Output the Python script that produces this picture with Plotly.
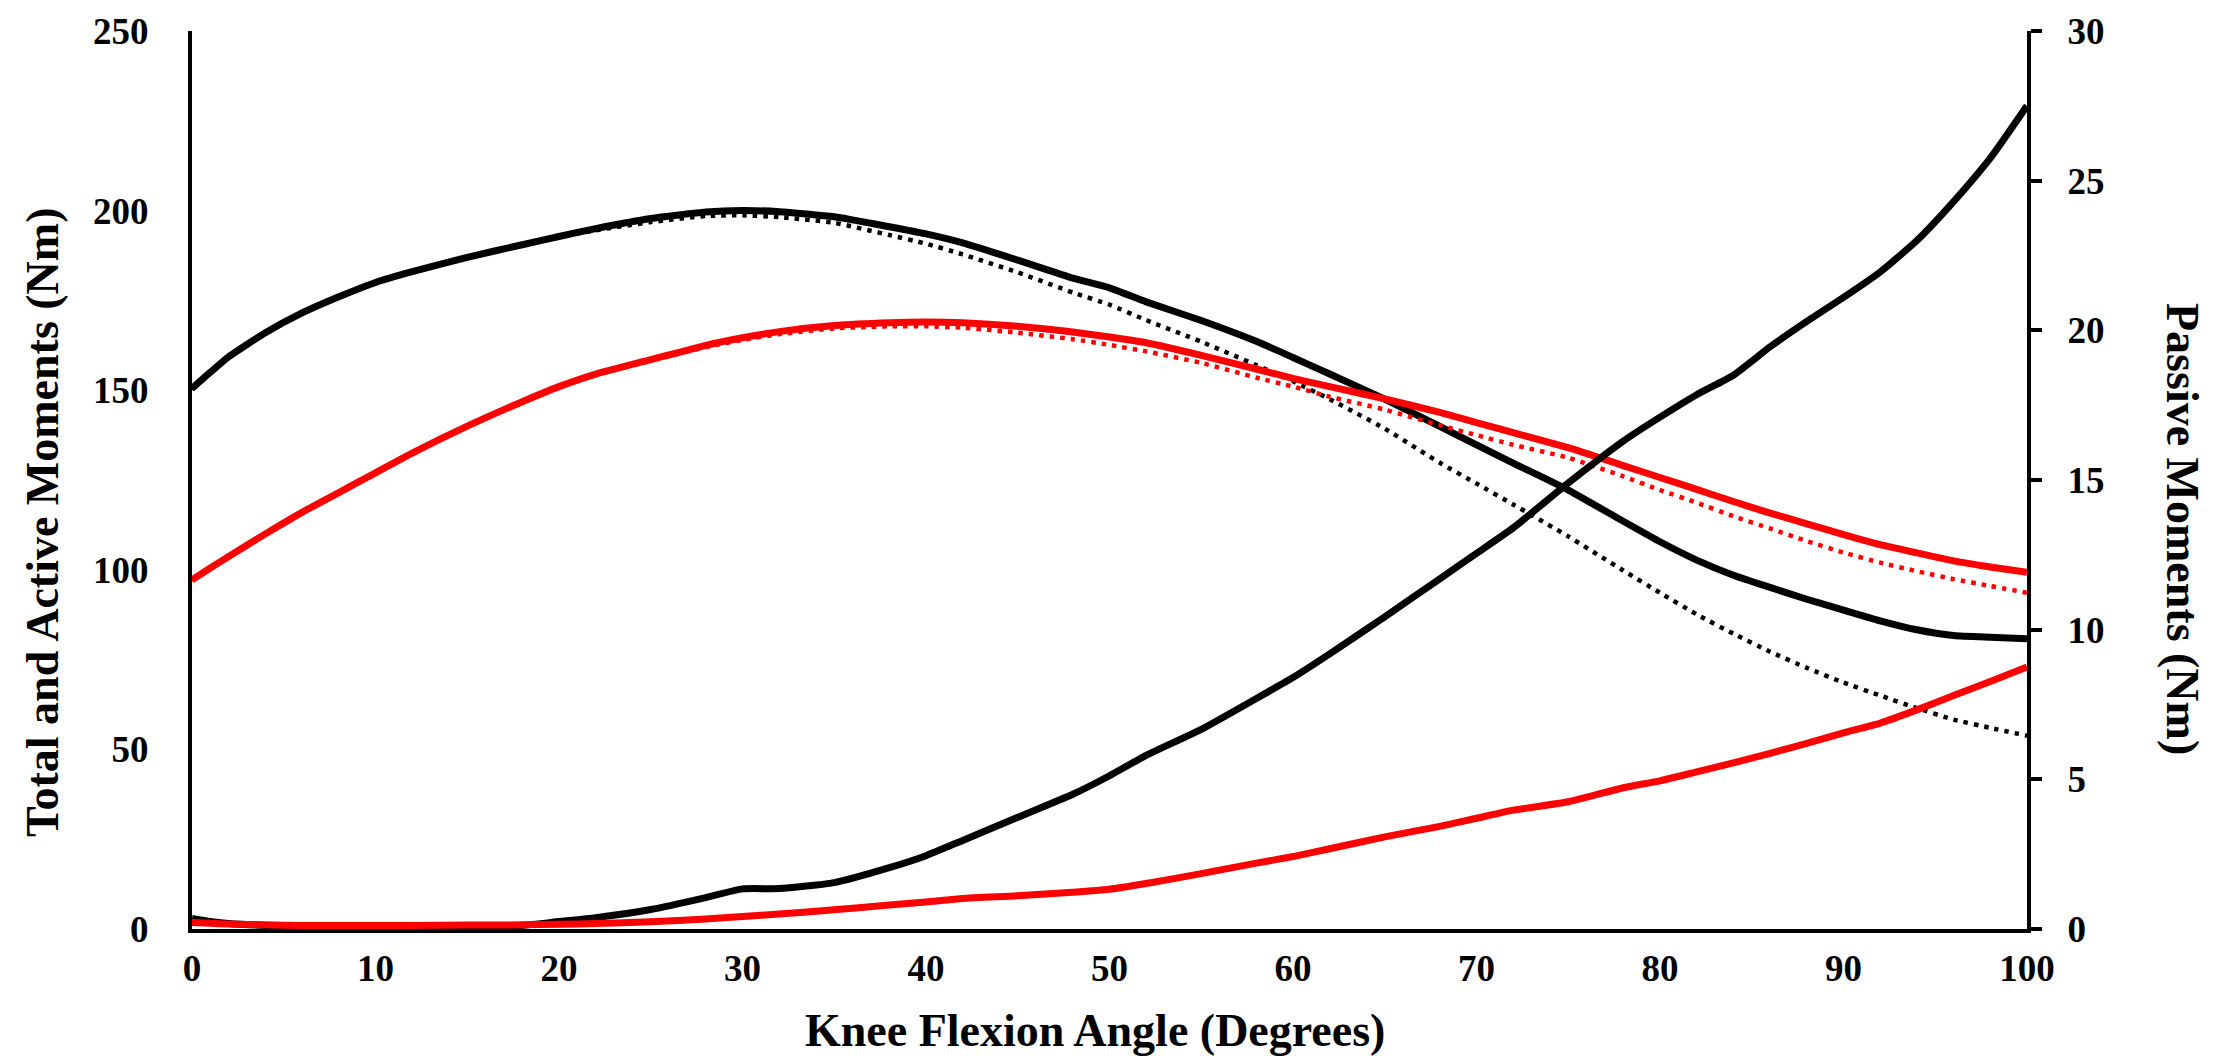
import plotly.graph_objects as go

# Knee flexion angle (degrees)
angle = [0, 1, 2, 4, 6, 8, 10, 12, 15, 18, 20, 22, 25, 28, 30, 32, 35, 38, 40, 42, 45, 48, 50,
         52, 55, 58, 60, 62, 65, 68, 70, 72, 75, 78, 80, 82, 84, 86, 88, 90, 92, 94, 96, 98, 100]

# Left axis (Nm): total moments (solid) and active moments (dotted)
black_total = [150.5, 155.0, 159.3, 166.0, 171.5, 176.0, 180.0, 183.0, 187.0, 190.5, 192.8, 195.0,
               197.8, 199.6, 200.0, 199.7, 198.3, 195.5, 193.5, 191.0, 186.2, 181.2, 178.5, 174.6,
               169.4, 163.6, 159.1, 154.5, 147.5, 139.9, 134.8, 129.7, 122.2, 113.5, 107.8, 102.7,
               98.5, 95.1, 91.8, 88.8, 85.8, 83.3, 81.7, 81.2, 80.8]
black_active = [150.2, 154.8, 159.1, 165.8, 171.4, 175.9, 179.9, 182.9, 186.9, 190.4, 192.6, 194.5,
                196.8, 198.5, 198.7, 198.2, 196.6, 193.2, 190.8, 187.8, 182.8, 177.2, 173.8, 169.5,
                163.5, 157.0, 152.5, 147.5, 139.3, 129.8, 124.0, 118.2, 109.3, 99.8, 93.6, 87.6,
                82.2, 77.2, 72.7, 68.6, 65.0, 61.5, 58.3, 56.0, 53.8]
red_total = [97.2, 100.5, 103.7, 110.0, 116.0, 121.5, 127.0, 132.5, 140.0, 146.8, 151.0, 154.5,
             158.5, 162.5, 164.6, 166.3, 168.0, 168.8, 169.0, 168.8, 167.8, 166.2, 164.8, 163.2,
             159.7, 155.9, 153.3, 151.0, 147.6, 143.8, 141.0, 138.2, 134.0, 129.0, 125.7, 122.4,
             119.0, 115.8, 112.8, 109.8, 107.0, 104.7, 102.5, 100.8, 99.3]
red_active = [97.0, 100.3, 103.5, 109.8, 115.8, 121.3, 126.8, 132.3, 139.8, 146.6, 150.8, 154.2,
              158.2, 162.0, 164.0, 165.6, 167.2, 167.8, 167.8, 167.4, 166.0, 164.2, 162.6, 160.8,
              157.6, 153.5, 151.0, 148.2, 144.6, 140.2, 137.5, 134.8, 131.2, 126.0, 122.2, 118.7,
              114.9, 111.5, 108.0, 104.8, 102.0, 99.6, 97.4, 95.5, 93.6]

# Right axis (Nm): passive moments
black_passive = [0.35, 0.25, 0.18, 0.12, 0.10, 0.08, 0.08, 0.08, 0.08, 0.12, 0.25, 0.38, 0.65, 1.05,
                 1.34, 1.35, 1.55, 2.05, 2.45, 2.96, 3.73, 4.50, 5.12, 5.80, 6.67, 7.70, 8.40, 9.19,
                 10.43, 11.70, 12.55, 13.40, 14.90, 16.30, 17.10, 17.85, 18.50, 19.45, 20.30, 21.10,
                 21.95, 23.00, 24.30, 25.75, 27.50]
red_passive = [0.22, 0.19, 0.17, 0.14, 0.12, 0.12, 0.12, 0.12, 0.13, 0.14, 0.16, 0.18, 0.24, 0.33,
               0.42, 0.50, 0.64, 0.80, 0.90, 1.02, 1.11, 1.23, 1.33, 1.52, 1.85, 2.20, 2.42, 2.68,
               3.08, 3.43, 3.70, 3.97, 4.25, 4.72, 4.95, 5.25, 5.55, 5.87, 6.20, 6.55, 6.88, 7.32,
               7.80, 8.27, 8.75]

x_ticks = list(range(0, 101, 10))
left_ticks = [0, 50, 100, 150, 200, 250]
right_ticks = [0, 5, 10, 15, 20, 25, 30]

FONT = "Liberation Serif, Times New Roman, serif"
LW = 7
DOT = dict(width=4.5, dash="4.5px,6px")


def solid(color):
    return dict(color=color, width=LW, shape="spline", smoothing=0.5)


def dotted(color):
    return dict(color=color, shape="spline", smoothing=0.5, **DOT)


fig = go.Figure()
fig.add_trace(go.Scatter(x=angle, y=black_total, mode="lines", line=solid("black")))
fig.add_trace(go.Scatter(x=angle, y=black_active, mode="lines", line=dotted("black")))
fig.add_trace(go.Scatter(x=angle, y=red_total, mode="lines", line=solid("#ff0000")))
fig.add_trace(go.Scatter(x=angle, y=red_active, mode="lines", line=dotted("#ff0000")))
fig.add_trace(go.Scatter(x=angle, y=black_passive, mode="lines", yaxis="y2", line=solid("black")))
fig.add_trace(go.Scatter(x=angle, y=red_passive, mode="lines", yaxis="y2", line=solid("#ff0000")))

tickfont = dict(family=FONT, size=37, color="black", weight="bold")

L, R, T, B = 192, 189, 31, 131
W, H = 2216, 1060
pw, ph = W - L - R, H - T - B


def px(x):
    return (x - L) / pw


def py(y):
    return (H - B - y) / ph


fig.update_layout(
    width=W, height=H,
    margin=dict(l=L, r=R, t=T, b=B, autoexpand=False),
    paper_bgcolor="white", plot_bgcolor="white",
    showlegend=False,
    xaxis=dict(range=[0, 100], tickvals=x_ticks, showgrid=False, zeroline=False,
               showline=True, linecolor="black", linewidth=4, ticks="",
               tickfont=tickfont, ticklabelstandoff=4),
    yaxis=dict(range=[0, 250], tickvals=left_ticks, showgrid=False, zeroline=False,
               showline=True, linecolor="black", linewidth=4, ticks="",
               tickfont=tickfont, ticklabelstandoff=32),
    yaxis2=dict(range=[0, 30], tickvals=right_ticks, overlaying="y", side="right",
                showgrid=False, zeroline=False, showline=True, linecolor="black",
                linewidth=4, ticks="outside", ticklen=11, tickwidth=4, tickcolor="black",
                tickfont=tickfont, ticklabelstandoff=18, anchor="x"),
    annotations=[
        dict(text="Knee Flexion Angle (Degrees)", xref="paper", yref="paper",
             x=px(1095), y=py(1030), xanchor="center", yanchor="middle", showarrow=False,
             font=dict(family=FONT, size=46, color="black", weight="bold")),
        dict(text="Total and Active Moments (Nm)", xref="paper", yref="paper",
             x=px(42), y=py(523), xanchor="center", yanchor="middle", showarrow=False,
             textangle=-90,
             font=dict(family=FONT, size=46, color="black", weight="bold")),
        dict(text="Passive Moments (Nm)", xref="paper", yref="paper",
             x=px(2183), y=py(529), xanchor="center", yanchor="middle", showarrow=False,
             textangle=90,
             font=dict(family=FONT, size=46, color="black", weight="bold")),
    ],
)

fig.write_html("out.html")
